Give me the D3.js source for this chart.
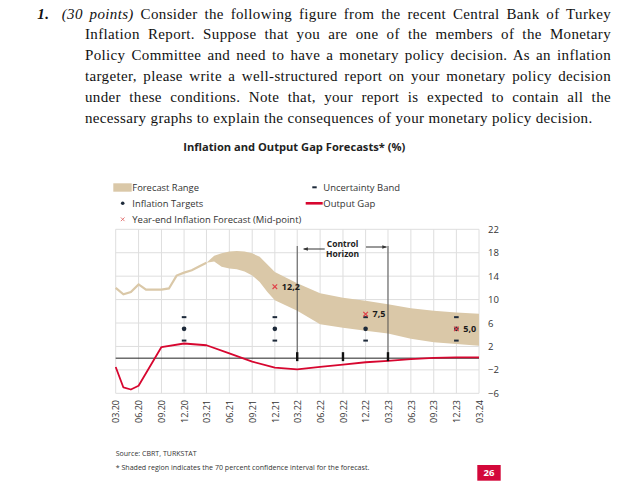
<!DOCTYPE html>
<html>
<head>
<meta charset="utf-8">
<script src="https://cdn.jsdelivr.net/npm/d3@7.9.0/dist/d3.min.js"></script>
<style>
  body { margin: 0; background: #fff; }
  #page { position: relative; width: 641px; height: 499px; overflow: hidden; }
  svg { position: absolute; left: 0; top: 0; }
  .question {
    position: absolute; left: 85px; top: 3.5px; width: 526px;
    font-family: 'Liberation Serif', 'Times New Roman', serif;
    font-size: 15px; letter-spacing: 0.35px; line-height: 20.85px; color: #111;
  }
  .question .ln { text-align: justify; text-align-last: justify; }
  .question .ln.first { margin-left: -47.7px; }
  .question .ln.last { text-align-last: left; }
  .question .num { display: inline-block; width: 24.4px; font-weight: bold; font-style: italic; }
</style>
</head>
<body>
<div id="page">
  <svg id="chart" width="641" height="499"></svg>
  <div class="question">
    <div class="ln first"><span class="num">1.</span><i>(30 points)</i> Consider the following figure from the recent Central Bank of Turkey</div>
    <div class="ln">Inflation Report. Suppose that you are one of the members of the Monetary</div>
    <div class="ln">Policy Committee and need to have a monetary policy decision. As an inflation</div>
    <div class="ln">targeter, please write a well-structured report on your monetary policy decision</div>
    <div class="ln">under these conditions. Note that, your report is expected to contain all the</div>
    <div class="ln last">necessary graphs to explain the consequences of your monetary policy decision.</div>
  </div>
</div>
<script>
// values
const tickLabels = ['03.20','06.20','09.20','12.20','03.21','06.21','09.21','12.21','03.22',
                    '06.22','09.22','12.22','03.23','06.23','09.23','12.23','03.24'];
const yTicks = [-6, -2, 2, 6, 10, 14, 18, 22];

const histMonths = ['03.20','04.20','05.20','06.20','07.20','08.20','09.20','10.20','11.20','12.20','01.21','02.21','03.21'];
const histInflation = [12.0, 10.9, 11.3, 12.6, 11.7, 11.7, 11.7, 11.9, 14.1, 14.6, 15.0, 15.7, 16.3];

const bandMonths = ['03.21','04.21','05.21','06.21','07.21','08.21','09.21','10.21','11.21','12.21',
                    '03.22','06.22','09.22','12.22','03.23','06.23','09.23','12.23','03.24'];
const bandLow  = [16.3, 16.5, 15.6, 15.3, 15.2, 14.8, 14.1, 13.0, 11.3, 9.9, 8.1, 5.8, 5.2, 4.7, 4.2, 3.3, 2.7, 2.4, 2.1];
const bandHigh = [16.3, 17.5, 17.9, 18.2, 18.3, 18.2, 17.9, 17.3, 16.0, 14.7, 12.8, 11.1, 10.3, 9.8, 9.2, 8.5, 8.1, 7.8, 7.6];

const gapMonths = ['03.20','04.20','05.20','06.20','09.20','12.20','03.21','06.21','09.21','12.21',
                   '03.22','06.22','09.22','12.22','03.23','06.23','09.23','12.23','03.24'];
const outputGap = [-1.5, -5.0, -5.35, -4.7, 1.9, 2.5, 2.2, 0.8, -0.6, -1.6,
                   -1.9, -1.5, -1.1, -0.7, -0.45, -0.15, 0.05, 0.15, 0.15];

const targetMonths = ['12.20','12.21','12.22','12.23'];
const targets = [5, 5, 5, 5];
const bandUpper = [7, 7, 7, 7];
const bandLower = [3, 3, 3, 3];

const forecastMonths = ['12.21','12.22','12.23'];
const forecasts = [12.2, 7.5, 5.0];
const forecastLabels = ['12,2', '7,5', '5,0'];

const horizonMonths = ['03.22', '03.23'];
const gapMarks = ['03.22', '09.22', '03.23'];

const tan = '#dac8a8';
const red = '#d7062f';
const navy = '#1d2a3a';
const sans = "'Open Sans', 'DejaVu Sans', sans-serif";

const parse = d3.timeParse('%m.%y');
const svg = d3.select('#chart');

const x = d3.scaleTime().domain([parse('03.20'), parse('03.24')]).range([115.7, 479]);
const y = d3.scaleLinear().domain([-6, 22]).range([393.3, 229.3]);

// title
svg.append('text')
  .attr('x', 183.3).attr('y', 150.7)
  .attr('font-family', sans).attr('font-size', 11).attr('font-weight', 'bold').attr('fill', '#222')
  .attr('textLength', 222).attr('lengthAdjust', 'spacingAndGlyphs')
  .text('Inflation and Output Gap Forecasts* (%)');

// grid
const grid = svg.append('g').attr('stroke', '#dedede').attr('stroke-width', 1);
grid.selectAll('line.v').data(tickLabels).join('line')
  .attr('x1', d => x(parse(d))).attr('x2', d => x(parse(d)))
  .attr('y1', y(22)).attr('y2', y(-6));
grid.selectAll('line.h').data(yTicks).join('line')
  .attr('x1', x.range()[0]).attr('x2', x.range()[1])
  .attr('y1', d => y(d)).attr('y2', d => y(d));

// forecast range
const band = bandMonths.map((m, i) => ({ date: parse(m), lo: bandLow[i], hi: bandHigh[i] }));
svg.append('path').datum(band)
  .attr('fill', tan)
  .attr('d', d3.area().x(d => x(d.date)).y0(d => y(d.lo)).y1(d => y(d.hi)));

// realised inflation
const hist = histMonths.map((m, i) => ({ date: parse(m), v: histInflation[i] }));
svg.append('path').datum(hist)
  .attr('fill', 'none').attr('stroke', tan).attr('stroke-width', 2.2)
  .attr('d', d3.line().x(d => x(d.date)).y(d => y(d.v)));

// zero line
svg.append('line')
  .attr('x1', x.range()[0]).attr('x2', x.range()[1])
  .attr('y1', y(0)).attr('y2', y(0))
  .attr('stroke', '#222').attr('stroke-width', 1);

// control horizon
svg.selectAll('line.horizon').data(horizonMonths).join('line')
  .attr('x1', d => x(parse(d))).attr('x2', d => x(parse(d)))
  .attr('y1', 246).attr('y2', y(0))
  .attr('stroke', '#444').attr('stroke-width', 0.9);

const defs = svg.append('defs');
defs.append('marker').attr('id', 'arrow').attr('viewBox', '0 0 6 6')
  .attr('refX', 5).attr('refY', 3).attr('markerWidth', 5).attr('markerHeight', 5)
  .attr('orient', 'auto-start-reverse')
  .append('path').attr('d', 'M0,0.8L6,3L0,5.2Z').attr('fill', '#333');

const hx0 = x(parse(horizonMonths[0])), hx1 = x(parse(horizonMonths[1]));
svg.append('line').attr('x1', hx0 + 27.5).attr('x2', hx0 + 6.5).attr('y1', 249).attr('y2', 249)
  .attr('stroke', '#333').attr('stroke-width', 1).attr('marker-end', 'url(#arrow)');
svg.append('line').attr('x1', hx1 - 22).attr('x2', hx1 - 1.5).attr('y1', 247).attr('y2', 247)
  .attr('stroke', '#333').attr('stroke-width', 1).attr('marker-end', 'url(#arrow)');
const hc = (hx0 + hx1) / 2;
svg.append('text').attr('x', hc).attr('y', 247.3).attr('text-anchor', 'middle')
  .attr('font-family', sans).attr('font-size', 8.5).attr('font-weight', 'bold').attr('fill', '#222')
  .text('Control');
svg.append('text').attr('x', hc).attr('y', 257.3).attr('text-anchor', 'middle')
  .attr('font-family', sans).attr('font-size', 8.5).attr('font-weight', 'bold').attr('fill', '#222')
  .text('Horizon');

// output gap
const gap = gapMonths.map((m, i) => ({ date: parse(m), v: outputGap[i] }));
svg.append('path').datum(gap)
  .attr('fill', 'none').attr('stroke', red).attr('stroke-width', 1.8).attr('stroke-linejoin', 'round')
  .attr('d', d3.line().x(d => x(d.date)).y(d => y(d.v)));

svg.selectAll('line.gapmark').data(gapMarks).join('line')
  .attr('x1', d => x(parse(d))).attr('x2', d => x(parse(d)))
  .attr('y1', y(0) - 6).attr('y2', y(0) + 3)
  .attr('stroke', '#111').attr('stroke-width', 2.4);

// uncertainty band
const dash = (vals) => svg.append('g').selectAll('rect').data(targetMonths).join('rect')
  .attr('x', d => x(parse(d)) - 2.3).attr('y', (d, i) => y(vals[i]) - 1)
  .attr('width', 4.6).attr('height', 2).attr('fill', navy);
dash(bandUpper);
dash(bandLower);

// inflation targets
svg.append('g').selectAll('circle').data(targetMonths).join('circle')
  .attr('cx', d => x(parse(d))).attr('cy', (d, i) => y(targets[i]))
  .attr('r', 2.3).attr('fill', navy);

// year-end forecasts
const cross = 'M-2.3,-2.3L2.3,2.3M-2.3,2.3L2.3,-2.3';
svg.append('g').selectAll('path').data(forecastMonths).join('path')
  .attr('transform', (d, i) => `translate(${x(parse(d))},${y(forecasts[i])})`)
  .attr('d', cross).attr('stroke', '#e0444b').attr('stroke-width', 1.2).attr('fill', 'none');
svg.append('g').selectAll('text').data(forecastMonths).join('text')
  .attr('x', d => x(parse(d)) + 7).attr('y', (d, i) => y(forecasts[i]))
  .attr('dy', '0.35em')
  .attr('font-family', sans).attr('font-size', 9).attr('font-weight', 'bold').attr('fill', '#1a1a1a')
  .text((d, i) => forecastLabels[i]);

// axes
const yAxis = svg.append('g').attr('transform', `translate(${x.range()[1]},0)`)
  .call(d3.axisRight(y).tickValues(yTicks).tickSize(0).tickPadding(9));
yAxis.select('.domain').remove();
yAxis.selectAll('text').attr('font-family', sans).attr('font-size', 9.5).attr('fill', '#333');

const xAxis = svg.append('g').attr('transform', `translate(0,${y(-6)})`)
  .call(d3.axisBottom(x).tickValues(tickLabels.map(parse)).tickFormat(d3.timeFormat('%m.%y')).tickSize(0));
xAxis.select('.domain').remove();
xAxis.selectAll('text')
  .attr('transform', 'rotate(-90)').attr('x', -6.7).attr('y', 0).attr('dy', '0.36em')
  .attr('text-anchor', 'end')
  .attr('font-family', sans).attr('font-size', 9).attr('fill', '#333');

// legend
const lg = svg.append('g').attr('font-family', sans).attr('font-size', 9.5).attr('fill', '#333');
lg.append('rect').attr('x', 113.3).attr('y', 183.3).attr('width', 18.4).attr('height', 8.4).attr('fill', tan);
lg.append('text').attr('x', 132.3).attr('y', 190.7).attr('textLength', 66.7).attr('lengthAdjust', 'spacingAndGlyphs').text('Forecast Range');
lg.append('circle').attr('cx', 122.7).attr('cy', 203.3).attr('r', 1.8).attr('fill', navy);
lg.append('text').attr('x', 132.3).attr('y', 206.7).attr('textLength', 71).attr('lengthAdjust', 'spacingAndGlyphs').text('Inflation Targets');
lg.append('path').attr('transform', 'translate(122.7,219.3) scale(0.8)').attr('d', cross)
  .attr('stroke', '#e06a6a').attr('stroke-width', 1.1);
lg.append('text').attr('x', 132.3).attr('y', 222.7).attr('textLength', 169).attr('lengthAdjust', 'spacingAndGlyphs').text('Year-end Inflation Forecast (Mid-point)');
lg.append('rect').attr('x', 312.3).attr('y', 186.3).attr('width', 4.4).attr('height', 2).attr('fill', navy);
lg.append('text').attr('x', 323.3).attr('y', 190.7).attr('textLength', 76.7).attr('lengthAdjust', 'spacingAndGlyphs').text('Uncertainty Band');
lg.append('line').attr('x1', 305.7).attr('x2', 322.7).attr('y1', 203.3).attr('y2', 203.3)
  .attr('stroke', red).attr('stroke-width', 2.6);
lg.append('text').attr('x', 323.3).attr('y', 206.7).attr('textLength', 52).attr('lengthAdjust', 'spacingAndGlyphs').text('Output Gap');

// notes
svg.append('text').attr('x', 115.7).attr('y', 455.7)
  .attr('font-family', sans).attr('font-size', 7).attr('fill', '#333')
  .attr('textLength', 81).attr('lengthAdjust', 'spacingAndGlyphs')
  .text('Source: CBRT, TURKSTAT');
svg.append('text').attr('x', 115.7).attr('y', 470)
  .attr('font-family', sans).attr('font-size', 6.5).attr('fill', '#333')
  .attr('textLength', 253.6).attr('lengthAdjust', 'spacingAndGlyphs')
  .text('* Shaded region indicates the 70 percent confidence interval for the forecast.');

// page number
svg.append('rect').attr('x', 477.3).attr('y', 465).attr('width', 23.4).attr('height', 15.7).attr('fill', '#d3083a');
svg.append('text').attr('x', 489).attr('y', 476.3).attr('text-anchor', 'middle')
  .attr('font-family', sans).attr('font-size', 9.5).attr('font-weight', 'bold').attr('fill', '#fff')
  .text('26');
</script>
</body>
</html>
